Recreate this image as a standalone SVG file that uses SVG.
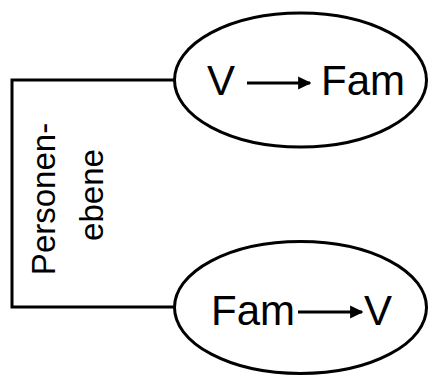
<svg xmlns="http://www.w3.org/2000/svg" width="430" height="376" viewBox="0 0 430 376">
  <style>
    .node { fill: #ffffff; stroke: #000000; stroke-width: 3; }
    .lbl { font-family: "Liberation Sans", Arial, sans-serif; font-size: 42px; fill: #000000; }
    .side { font-family: "Liberation Sans", Arial, sans-serif; font-size: 33px; fill: #000000; text-anchor: middle; }
    .link { fill: none; stroke: #000000; stroke-width: 3; }
    .arr { stroke: #000000; stroke-width: 3; marker-end: url(#head); }
  </style>
  <defs>
    <marker id="head" viewBox="0 0 10 10" refX="9" refY="5" markerWidth="4.4" markerHeight="4.4" orient="auto" markerUnits="strokeWidth">
      <path d="M0,0 L10,5 L0,10 z" fill="#000000"/>
    </marker>
  </defs>
  <rect width="430" height="376" fill="#ffffff"/>

  <!-- bracket joining both ellipses -->
  <g id="connectors">
    <path class="link" d="M174,80 H12 V307 H174"/>
  </g>

  <g id="label-personenebene">
    <text class="side" transform="translate(55,199) rotate(-90)">Personen-</text>
    <text class="side" transform="translate(103,195) rotate(-90)">ebene</text>
  </g>

  <g id="node-v-fam">
    <ellipse class="node" cx="300.5" cy="80" rx="126" ry="67"/>
    <text class="lbl" x="207" y="95">V</text>
    <line class="arr" x1="247" y1="83" x2="310" y2="83"/>
    <text class="lbl" x="321" y="95">Fam</text>
  </g>

  <g id="node-fam-v">
    <ellipse class="node" cx="300.5" cy="307.5" rx="126" ry="66"/>
    <text class="lbl" x="211" y="325">Fam</text>
    <line class="arr" x1="298" y1="312" x2="362" y2="312"/>
    <text class="lbl" x="364" y="325">V</text>
  </g>
</svg>
